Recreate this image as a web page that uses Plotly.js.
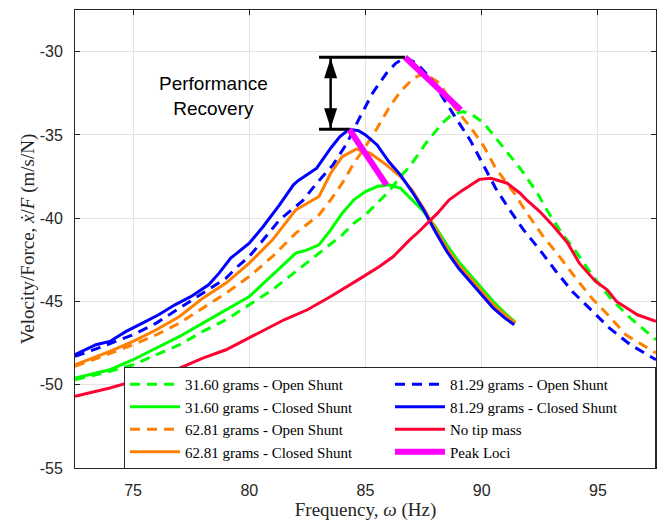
<!DOCTYPE html>
<html>
<head>
<meta charset="utf-8">
<script src="https://cdn.plot.ly/plotly-3.0.1.min.js"></script>
<style>html,body{margin:0;padding:0;background:#fff;}#chart{width:667px;height:522px;}</style>
</head>
<body>
<div id="chart"></div>
<script>
// ---- data ----
var xTicks = [75, 80, 85, 90, 95];
var yTicks = [-55, -50, -45, -40, -35, -30];
var yTickText = ['-55', '-50', '-45', '-40', '-35', '-30'];

var g31OpenX = [72.5, 74, 75, 76, 77, 78, 79, 80, 81, 82, 83, 83.5, 84, 84.5, 85, 85.5, 86, 86.5, 86.9, 87.6, 88.3, 88.7, 89.2, 89.6, 90.1, 90.9, 91.65, 92.4, 92.8, 93.4, 94.1, 94.8, 95.6, 96.4, 97.5];
var g31OpenY = [-49.7, -49.2, -48.8, -48.2, -47.6, -46.8, -46.1, -45.2, -44.3, -43.2, -42.1, -41.6, -41.0, -40.3, -39.8, -39.1, -38.4, -37.5, -36.9, -35.5, -34.3, -33.8, -33.6, -33.8, -34.3, -35.7, -37.0, -38.5, -39.5, -40.8, -42.1, -43.5, -44.9, -46.0, -47.3];

var g31ClosedX = [72.5, 74, 75, 76, 77, 78, 79, 80, 81, 82, 82.5, 83, 83.5, 84, 84.5, 85, 85.5, 86, 86.5, 87, 87.5, 88, 88.5, 89, 89.5, 90, 90.5, 91, 91.45];
var g31ClosedY = [-49.6, -49.1, -48.5, -47.8, -47.1, -46.3, -45.5, -44.7, -43.4, -42.1, -41.9, -41.6, -40.7, -39.7, -38.9, -38.4, -38.1, -38.0, -38.2, -38.9, -39.6, -40.5, -41.6, -42.6, -43.4, -44.2, -45.0, -45.7, -46.25];

var g62OpenX = [72.5, 74, 75, 76, 77, 78, 79, 80, 81, 82, 83, 83.5, 84, 84.5, 85, 85.5, 86, 86.5, 87.06, 87.5, 88.2, 88.8, 89.5, 90.1, 90.6, 91.4, 91.95, 92.6, 93.4, 94.1, 94.8, 95.5, 96.2, 97.5];
var g62OpenY = [-48.9, -48.1, -47.6, -47.0, -46.3, -45.4, -44.5, -43.5, -42.3, -40.9, -39.8, -38.9, -37.9, -36.7, -35.7, -34.6, -33.4, -32.4, -31.6, -31.3, -31.9, -33.3, -34.5, -35.7, -37.0, -38.5, -39.7, -41.0, -42.4, -43.7, -44.9, -45.9, -47.0, -48.1];

var g62ClosedX = [72.5, 74, 75, 76, 77, 78, 79, 79.5, 80, 81, 82, 83, 83.5, 84, 84.6, 85.2, 85.9, 86.5, 87, 87.5, 88, 88.5, 89, 89.5, 90, 90.5, 91, 91.45];
var g62ClosedY = [-48.8, -48.0, -47.4, -46.7, -45.9, -44.8, -43.9, -43.3, -42.7, -41.3, -39.5, -38.7, -37.3, -36.3, -35.85, -36.1, -36.8, -37.5, -38.3, -39.4, -40.6, -41.8, -42.8, -43.6, -44.4, -45.2, -45.8, -46.3];

var g81OpenX = [72.5, 73.5, 75, 76, 77, 78, 79, 79.5, 80, 80.6, 81.3, 82.3, 82.9, 83.6, 84.2, 84.7, 85.3, 85.9, 86.3, 86.7, 87.2, 87.8, 88.2, 88.8, 89.5, 90.1, 90.6, 91.2, 91.8, 92.5, 93.2, 93.9, 94.7, 95.5, 96.4, 97.5];
var g81OpenY = [-48.3, -47.8, -47.0, -46.3, -45.4, -44.5, -43.6, -42.9, -42.3, -41.3, -40.1, -38.95, -37.9, -36.8, -35.5, -34.1, -32.5, -31.3, -30.7, -30.34, -30.7, -31.6, -32.5, -33.8, -35.3, -36.9, -38.2, -39.5, -40.7, -41.9, -43.2, -44.4, -45.5, -46.6, -47.6, -48.5];

var g81ClosedX = [72.5, 73.4, 74, 74.7, 75.4, 76.1, 76.8, 77.5, 78.25, 78.7, 79.2, 80, 80.6, 81.3, 81.9, 82.1, 82.9, 83.5, 83.9, 84.3, 84.7, 85, 85.5, 86, 86.5, 87, 87.5, 88, 88.5, 89, 89.5, 90, 90.5, 91, 91.4];
var g81ClosedY = [-48.2, -47.6, -47.4, -46.8, -46.3, -45.8, -45.2, -44.7, -44.0, -43.3, -42.4, -41.5, -40.5, -39.2, -38.0, -37.75, -37.0, -35.8, -35.1, -34.66, -34.75, -35.0, -35.6, -36.6, -37.4, -38.4, -39.5, -40.8, -42.0, -43.0, -43.8, -44.6, -45.4, -46.0, -46.4];

var noTipX = [72.5, 74, 75, 76, 77, 78, 79, 80, 81.5, 82.5, 83.5, 84.8, 85.6, 86.2, 86.9, 87.3, 88.1, 88.6, 89.2, 89.9, 90.4, 91.1, 91.65, 91.93, 92.5, 93.1, 93.7, 94.2, 94.9, 95.4, 95.8, 96.7, 97.5];
var noTipY = [-50.7, -50.2, -49.8, -49.5, -49.0, -48.4, -47.9, -47.2, -46.1, -45.5, -44.7, -43.6, -42.9, -42.3, -41.3, -40.8, -39.7, -38.9, -38.3, -37.67, -37.6, -37.9, -38.5, -38.9, -39.6, -40.5, -41.5, -42.7, -43.8, -44.3, -45.0, -45.8, -46.2];

// peak loci: closed-shunt peaks, gap, open-shunt peaks
var peakLociX = [84.3, 85.9, null, 86.7, 89.1];
var peakLociY = [-34.66, -38.0, null, -30.34, -33.5];

var recoveryStartX = 83.0;   // left end of the two bracket lines
var recoveryArrowX = 83.5;   // x of the double arrow

// ---- traces ----
var GREEN = '#00ff00', ORANGE = '#ff8000', BLUE = '#0000ff', RED = '#ff0033', MAG = '#ff00ff';
var DASH = '10px,7px';
function tr(x, y, name, color, dash, rank, w) {
  return {x: x, y: y, name: name, mode: 'lines', type: 'scatter', legendrank: rank,
    line: {color: color, width: w || 3, dash: dash || 'solid'}, hoverinfo: 'skip'};
}
var traces = [
  tr(g31OpenX, g31OpenY, '31.60 grams - Open Shunt', GREEN, DASH, 1),
  tr(g31ClosedX, g31ClosedY, '31.60 grams - Closed Shunt', GREEN, null, 3),
  tr(g62OpenX, g62OpenY, '62.81 grams - Open Shunt', ORANGE, DASH, 5),
  tr(g62ClosedX, g62ClosedY, '62.81 grams - Closed Shunt', ORANGE, null, 7),
  tr(g81OpenX, g81OpenY, '81.29 grams - Open Shunt', BLUE, DASH, 2),
  tr(g81ClosedX, g81ClosedY, '81.29 grams - Closed Shunt', BLUE, null, 4),
  tr(noTipX, noTipY, 'No tip mass', RED, null, 6),
  tr(peakLociX, peakLociY, 'Peak Loci', MAG, null, 8, 6)
];
traces[7].connectgaps = false;

// ---- recovery bracket derived from peak loci ----
var topY = peakLociY[3], topX = peakLociX[3];
var botY = peakLociY[0], botX = peakLociX[0];
var shapes = [
  {type: 'line', xref: 'x', yref: 'y', x0: recoveryStartX, x1: topX, y0: topY, y1: topY, line: {color: '#000', width: 3}},
  {type: 'line', xref: 'x', yref: 'y', x0: recoveryStartX, x1: botX, y0: botY, y1: botY, line: {color: '#000', width: 3}},
  {type: 'line', xref: 'x', yref: 'y', x0: recoveryArrowX, x1: recoveryArrowX, y0: topY, y1: botY, line: {color: '#000', width: 2.5}},
  {type: 'path', xref: 'x', yref: 'y', xsizemode: 'pixel', ysizemode: 'pixel', xanchor: recoveryArrowX, yanchor: topY,
   path: 'M0,-1 L-6.5,-21 L6.5,-21 Z', fillcolor: '#000', line: {width: 0}},
  {type: 'path', xref: 'x', yref: 'y', xsizemode: 'pixel', ysizemode: 'pixel', xanchor: recoveryArrowX, yanchor: botY,
   path: 'M0,1 L-6.5,21 L6.5,21 Z', fillcolor: '#000', line: {width: 0}}
];

var axisCommon = {
  showgrid: true, gridcolor: '#e3e3e3', gridwidth: 1, zeroline: false,
  ticks: 'inside', ticklen: 5, tickcolor: '#262626', tickwidth: 1,
  showline: true, linecolor: '#262626', linewidth: 1, mirror: 'ticks',
  tickfont: {family: 'Liberation Sans, Arial, sans-serif', size: 16, color: '#262626'},
  ticklabelstandoff: 8
};

var layout = {
  width: 667, height: 522,
  margin: {l: 75, r: 11, t: 10, b: 54},
  paper_bgcolor: '#fff', plot_bgcolor: '#fff',
  showlegend: true,
  xaxis: Object.assign({}, axisCommon, {
    range: [72.5, 97.5], tickmode: 'array', tickvals: xTicks, automargin: false,
    title: {text: 'Frequency, <i>ω</i> (Hz)', standoff: 3,
      font: {family: 'Liberation Serif, serif', size: 19, color: '#262626'}}
  }),
  yaxis: Object.assign({}, axisCommon, {
    range: [-55, -27.5], tickmode: 'array', tickvals: yTicks, ticktext: yTickText, automargin: false,
    title: {text: 'Velocity/Force, <i>ẋ</i>/<i>F</i> (m/s/N)', standoff: 0,
      font: {family: 'Liberation Serif, serif', size: 19, color: '#262626'}}
  }),
  legend: {
    orientation: 'h', x: 0.0843, y: 0.2205, xanchor: 'left', yanchor: 'top',
    bgcolor: '#ffffff', bordercolor: '#262626', borderwidth: 1,
    font: {family: 'Liberation Serif, serif', size: 15, color: '#000'},
    entrywidth: 200, entrywidthmode: 'pixels', itemwidth: 50, tracegroupgap: 0
  },
  shapes: shapes,
  annotations: [{
    xref: 'x', yref: 'y', x: 78.45, y: -32.66, showarrow: false,
    text: 'Performance<br>Recovery', align: 'center',
    font: {family: 'Liberation Sans, Arial, sans-serif', size: 19, color: '#000'}
  }]
};

Plotly.newPlot('chart', traces, layout, {displayModeBar: false, staticPlot: true});
</script>
</body>
</html>
